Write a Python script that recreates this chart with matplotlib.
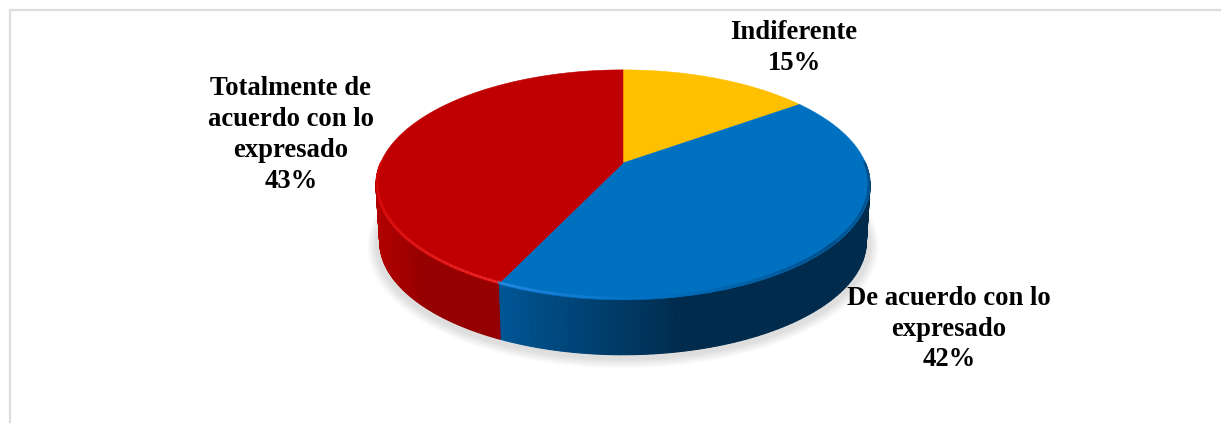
import numpy as np
import matplotlib
matplotlib.use("Agg")
import matplotlib.pyplot as plt
from matplotlib.patches import Polygon
from matplotlib.colors import to_rgb

labels = ["Indiferente", "De acuerdo con lo\nexpresado", "Totalmente de\nacuerdo con lo\nexpresado"]
values = [15, 42, 43]
colors = ["#FFC000", "#0070C0", "#C00000"]
label_x = [794, 949, 291]
label_y = [48, 329, 135]

cx, cy = 623, 163
rx, ry, k = 242.5, 110.8, 0.19
depth = 57


def project(t, scale=1.0, dy=0.0):
    # t is clockwise from the top of the pie
    u, v = np.sin(t), np.cos(t)
    d = 1 + k * v
    return cx + scale * rx * u / d, cy + dy - scale * ry * v / d


def mix(c1, c2, f):
    c1, c2 = np.array(to_rgb(c1)), np.array(to_rgb(c2))
    return tuple(c1 + (c2 - c1) * f)


def side_color(i, x):
    if i == 2:
        return mix("#B00000", "#950000", min(max((x - 378) / 45, 0), 1))
    if i == 1:
        return mix("#005797", "#002B4C", min(max((x - 494) / 190, 0), 1))
    return "#B08600"


fig = plt.figure(figsize=(12.21, 4.23), dpi=100)
ax = fig.add_axes([0, 0, 1, 1])
ax.set_xlim(0, 1221)
ax.set_ylim(423, 0)
ax.axis("off")

# frame of the chart area
ax.plot([9.5, 9.5, 1221], [423, 10.5, 10.5], color="#DDDDDD", lw=1.6)

edges = np.cumsum([0] + values) / sum(values) * 2 * np.pi

# soft shadow under the pie
tt = np.linspace(0, 2 * np.pi, 300)
for grow in np.linspace(10, 0, 11):
    sx, sy = project(tt, 1.0, depth + 2)
    px = cx + (sx - cx) * (1 + grow / 280)
    py = cy + depth + 3 + (sy - cy - depth - 2) * (1 + grow / 160)
    ax.add_patch(Polygon(np.c_[px, py], fc="black", ec="none", alpha=0.012, zorder=1))

# side wall, drawn as thin strips so it can shade from left to right
for i in range(len(values)):
    t0, t1 = max(edges[i], np.pi / 2), min(edges[i + 1], 3 * np.pi / 2)
    if t1 <= t0:
        continue
    steps = np.linspace(t0, t1, 90)
    for a, b in zip(steps[:-1], steps[1:]):
        ts = np.array([a, b])
        x1, y1 = project(ts)
        x2, y2 = project(ts, 0.985, depth)
        c = side_color(i, x1.mean())
        ax.add_patch(Polygon([(x1[0], y1[0]), (x1[1], y1[1]), (x2[1], y2[1]), (x2[0], y2[0])],
                             fc=c, ec=c, lw=0.8, zorder=2))

# top face
for i in range(len(values)):
    ts = np.linspace(edges[i], edges[i + 1], 200)
    x, y = project(ts)
    ax.add_patch(Polygon(np.r_[[[cx, cy]], np.c_[x, y]], fc=colors[i], ec=colors[i], lw=0.4, zorder=3))

# rim: bright on the left of the front edge, dark to the right
rim_red = np.linspace(edges[2], 1.5 * np.pi, 60)
for a, b in zip(rim_red[:-1], rim_red[1:]):
    f = (a - edges[2]) / (rim_red[-1] - edges[2])
    x, y = project(np.array([a, b]), 0.995, -1)
    ax.plot(x, y, color=mix("#EE2A2A", "#D40000", f), lw=1.8, alpha=0.6 + 0.2 * (1 - f), zorder=4)
rim_blue = np.linspace(edges[2], 0.72 * np.pi, 100)
for a, b in zip(rim_blue[:-1], rim_blue[1:]):
    f = (edges[2] - a) / (edges[2] - rim_blue[-1])
    x, y = project(np.array([a, b]), 0.995, -1)
    if f < 0.4:
        c = mix("#2A8CE8", "#0070C0", f / 0.4)
    else:
        c = mix("#0070C0", "#00487E", (f - 0.4) / 0.6)
    ax.plot(x, y, color=c, lw=1.8, alpha=0.7, zorder=4)
rim_dark = np.linspace(0.72 * np.pi, 0.5 * np.pi, 50)
x, y = project(rim_dark, 0.995, -1)
ax.plot(x, y, color="#00487E", lw=1.8, alpha=0.7, zorder=4)

for i in range(len(values)):
    ax.text(label_x[i], label_y[i], f"{labels[i]}\n{values[i]}%", ha="center", va="center",
            family="Liberation Serif", weight="bold", fontsize=19.2, color="black",
            linespacing=1.3, zorder=5)

fig.savefig("out.png", dpi=100)
